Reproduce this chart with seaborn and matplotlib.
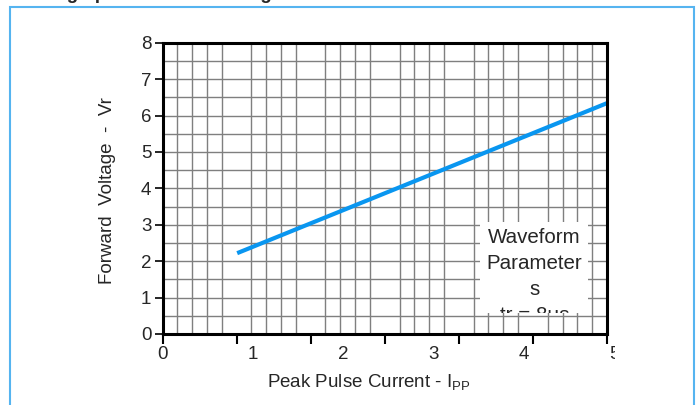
import matplotlib
matplotlib.use("Agg")
import matplotlib.pyplot as plt
import matplotlib.transforms as mtransforms
from matplotlib.patches import Rectangle
import numpy as np
import pandas as pd
import seaborn as sns

# data
peak_current = [0.84, 5.0]
forward_voltage = [2.22, 6.34]
x_tick_labels = ["0", "1", "2", "3", "4", "5"]
y_tick_values = [0, 1, 2, 3, 4, 5, 6, 7, 8]
box_lines = ["Waveform", "Parameter", "s", "tr = 8\u03bcs"]

FS = 13.5

sns.set_style("white")
plt.rcParams["font.family"] = ["Liberation Sans", "DejaVu Sans"]
plt.rcParams["mathtext.fontset"] = "custom"
plt.rcParams["mathtext.rm"] = "Liberation Sans"

fig = plt.figure(figsize=(6.98, 4.05), dpi=100)
ax = fig.add_axes([162.5 / 698, 1 - 334 / 405, 444.5 / 698, 291.3 / 405])

df = pd.DataFrame({"ipp": peak_current, "vf": forward_voltage})
sns.lineplot(data=df, x="ipp", y="vf", ax=ax, color="#0996f0", linewidth=3,
             solid_capstyle="butt", zorder=5)

ax.set_xlim(0, 5)
ax.set_ylim(0, 8)

# grid: 30 columns, half-volt rows
ax.set_xticks(np.arange(31) / 6, minor=True)
ax.set_xticks(np.arange(7) * 5 / 6)
ax.set_xticklabels([])
ax.set_yticks(y_tick_values)
ax.set_yticks(np.arange(0, 8.01, 0.5), minor=True)
ax.grid(True, which="minor", color="#7f7f7f", linewidth=1.0)
ax.grid(True, which="major", axis="y", color="#7f7f7f", linewidth=1.0)
ax.set_axisbelow(True)
ax.tick_params(axis="x", which="major", direction="out", length=7, width=1.5,
               color="black", bottom=True)
ax.tick_params(axis="x", which="minor", length=0)
ax.tick_params(axis="y", which="major", direction="out", length=6, width=1.2,
               color="black", left=True, labelsize=FS, pad=2)
ax.tick_params(axis="y", which="minor", length=0)

for side in ["left", "bottom", "right", "top"]:
    ax.spines[side].set_color("black")
    ax.spines[side].set_linewidth(2.2)
    ax.spines[side].set_zorder(6)

# x tick labels (slightly offset from the ticks as in the original)
clip = mtransforms.TransformedBbox(
    mtransforms.Bbox([[0, 0], [615 / 698, 1]]), fig.transFigure)
lab_tr = mtransforms.blended_transform_factory(ax.transData, ax.transAxes)
for i, lab in enumerate(x_tick_labels):
    t = ax.text(i * 1.016, -0.04, lab, transform=lab_tr, ha="center", va="top",
                fontsize=FS)
    t.set_clip_on(True)
    t.set_clip_box(clip)

ax.set_xlabel("")
ax.set_ylabel("")
fig.text(369 / 698, 1 - 383 / 405, "Peak Pulse Current - I$_{\\mathrm{PP}}$",
         ha="center", va="center", fontsize=FS)
fig.text(107 / 698, 1 - 191 / 405, "Forward  Voltage  -  Vr", rotation=90,
         ha="center", va="center", fontsize=FS)

# waveform parameter box, clipped at its bottom edge
box = Rectangle((0.714, 0.072), 0.243, 0.312, transform=ax.transAxes,
                facecolor="white", edgecolor="none", zorder=4)
ax.add_patch(box)
for i, line in enumerate(box_lines):
    t = ax.text(0.837, 0.330 - i * 0.089, line, transform=ax.transAxes,
                ha="center", va="center", fontsize=14.8, zorder=4.5)
    t.set_clip_on(True)
    t.set_clip_path(box)

# outer light-blue frame and clipped title
fig.add_artist(Rectangle((10 / 698, -0.05), 684 / 698, 1 - 7 / 405 + 0.05,
                         transform=fig.transFigure, facecolor="none",
                         edgecolor="#55b4f0", linewidth=1.5))
fig.text(20 / 698, 1 + 1 / 405, "Rating - peak forward voltage",
         ha="left", va="baseline", fontsize=FS, fontweight="bold")

fig.savefig("out.png", dpi=100)
